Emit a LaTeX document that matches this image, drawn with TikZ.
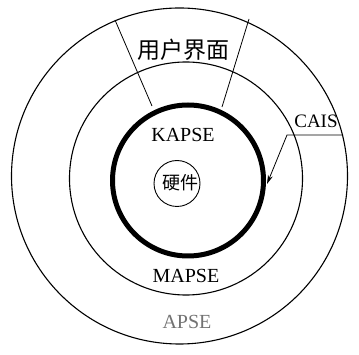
\documentclass[tikz,border=0pt]{standalone}
\usepackage{fontspec}
\setmainfont{Liberation Serif}
\newfontfamily\cjk{Noto Sans CJK SC}
\usetikzlibrary{arrows.meta}
\begin{document}
\begin{tikzpicture}[x=1pt,y=-1pt,
  ring/.style={draw=black,line width=1.1pt},
  lbl/.style={font=\fontsize{20}{22}\selectfont,inner sep=0pt},
  cjklbl/.style={font=\cjk\fontsize{23}{25}\selectfont,inner sep=0pt}]
\useasboundingbox (0,0) rectangle (359,355);
\draw[ring] (179.5,176) circle (168pt);
\draw[ring] (186,178.5) circle (116.5pt);
\draw[draw=black,line width=5pt] (188,180.5) circle (75.5pt);
\draw[ring,line width=0.9pt] (177,183.5) circle (23pt);
\draw[line width=0.8pt] (115,20) -- (152,106);
\draw[line width=0.8pt] (249,19) -- (222,107);
\node[cjklbl] (ui) at (183,50) {用户界面};
\node[lbl] (kapse) at (183,135) {KAPSE};
\node[cjklbl,font=\cjk\fontsize{18}{20}\selectfont] (hw) at (180,183) {硬件};
\node[lbl] (mapse) at (186,276) {MAPSE};
\node[lbl,text=black!55] (apse) at (187,322) {APSE};
\node[lbl,font=\fontsize{19}{21}\selectfont] (cais) at (316,121) {CAIS};
\coordinate (c1) at (343,135);
\coordinate (c2) at (287,135);
\coordinate (c3) at (267,184);
\draw[line width=0.8pt,-{Stealth[length=9pt,width=5pt]}] (c1) -- (c2) -- (c3);
\end{tikzpicture}
\end{document}
